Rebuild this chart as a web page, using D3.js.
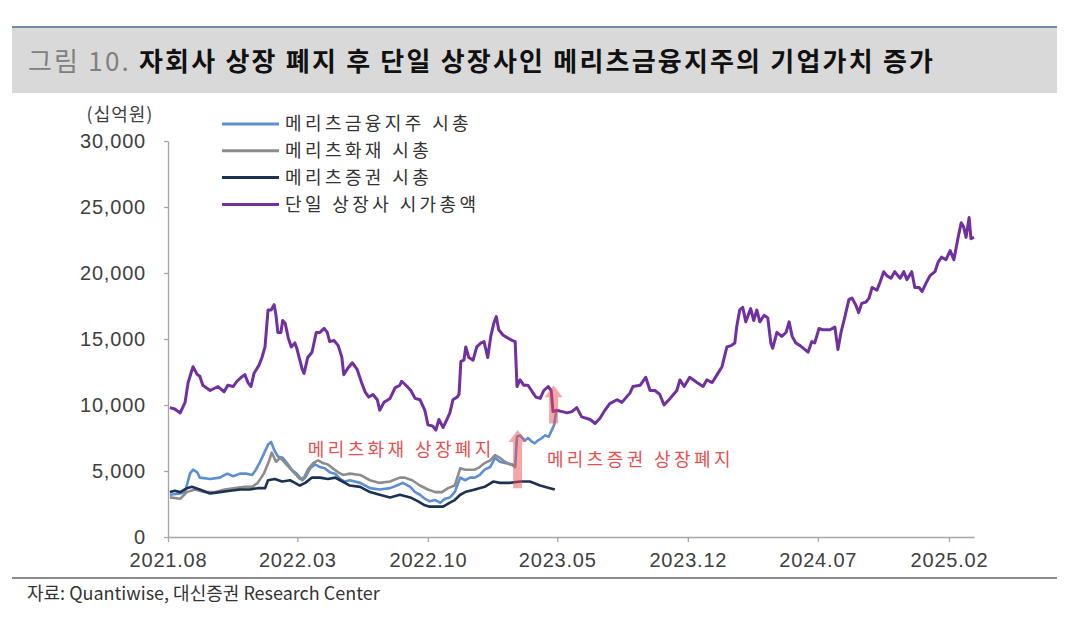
<!DOCTYPE html>
<html>
<head>
    <meta charset="utf-8">
    <title>메리츠금융지주 기업가치</title>
    <style>
        body { margin: 0; background: #fff; }
        text { font-family: 'Noto Sans CJK KR', 'Noto Sans', sans-serif; }
        .num { font-family: 'Liberation Sans', Arial, sans-serif; }
    </style>
</head>
<body>
<div id='plot'></div>
<script src="https://cdn.jsdelivr.net/npm/d3@7"></script>
<script>

    // 시가총액 (십억원), 그림에서 읽은 값
    let holdingCap = [
      ['2021-08-04',3200],['2021-08-21',3300],['2021-08-29',3400],['2021-09-06',4800],['2021-09-11',5100],
      ['2021-09-18',4900],['2021-09-22',4500],['2021-10-09',4400],['2021-10-25',4500],['2021-11-06',4800],
      ['2021-11-16',4600],['2021-11-27',4800],['2021-12-08',4800],['2021-12-17',4700],['2021-12-23',5100],
      ['2021-12-30',5700],['2022-01-05',6300],['2022-01-12',7000],['2022-01-17',7200],['2022-01-22',6600],
      ['2022-01-28',6100],['2022-02-05',6000],['2022-02-12',5600],['2022-02-20',5100],['2022-02-28',4800],
      ['2022-03-09',4300],['2022-03-14',4500],['2022-03-22',5200],['2022-03-30',5500],['2022-04-07',5300],
      ['2022-04-15',5200],['2022-04-23',4900],['2022-05-02',4800],['2022-05-10',4400],['2022-05-18',4200],
      ['2022-05-26',4300],['2022-06-12',4100],['2022-06-28',3700],['2022-07-14',3600],['2022-07-31',3700],
      ['2022-08-11',3900],['2022-08-21',4100],['2022-09-02',3800],['2022-09-10',3400],['2022-09-18',3200],
      ['2022-09-26',2900],['2022-10-04',2700],['2022-10-13',2800],['2022-10-21',2600],['2022-10-29',2900],
      ['2022-11-06',3000],['2022-11-14',3400],['2022-11-23',4500],['2022-12-01',4300],['2022-12-09',4500],
      ['2022-12-17',4500],['2022-12-25',4700],['2023-01-02',5100],['2023-01-11',5300],['2023-01-19',6000],
      ['2023-01-27',5700],['2023-02-04',5600],['2023-02-16',5500],['2023-02-21',5300],['2023-02-24',7600],
      ['2023-03-01',7700],['2023-03-09',7300],['2023-03-14',7500],['2023-03-21',7200],['2023-03-25',7100],
      ['2023-03-30',7300],['2023-04-06',7500],['2023-04-11',7700],['2023-04-17',7600],['2023-04-22',8100],
      ['2023-04-26',8500],['2023-04-29',9500]
    ];

    let fireCap = [
      ['2021-08-04',3000],['2021-08-21',2900],['2021-09-01',3400],['2021-09-14',3600],['2021-10-01',3400],
      ['2021-10-17',3400],['2021-11-02',3600],['2021-11-19',3700],['2021-12-05',3800],['2021-12-17',3800],
      ['2021-12-26',4100],['2022-01-05',4800],['2022-01-14',5800],['2022-01-18',6400],['2022-01-25',5700],
      ['2022-02-01',6000],['2022-02-09',5600],['2022-02-17',5200],['2022-02-25',4800],['2022-03-05',4400],
      ['2022-03-12',4500],['2022-03-18',5100],['2022-03-27',5600],['2022-04-04',5800],['2022-04-12',5600],
      ['2022-04-20',5500],['2022-04-28',5200],['2022-05-07',4900],['2022-05-15',4700],['2022-05-26',4800],
      ['2022-06-12',4700],['2022-06-28',4300],['2022-07-14',4100],['2022-07-31',4200],['2022-08-16',4500],
      ['2022-08-24',4500],['2022-09-05',4300],['2022-09-18',3900],['2022-10-01',3600],['2022-10-13',3400],
      ['2022-10-24',3400],['2022-11-03',3700],['2022-11-14',3900],['2022-11-23',5200],['2022-12-01',5100],
      ['2022-12-09',5100],['2022-12-17',5100],['2022-12-25',5300],['2023-01-02',5600],['2023-01-11',5800],
      ['2023-01-19',6200],['2023-01-27',6000],['2023-02-04',5700],['2023-02-12',5500],['2023-02-21',5400]
    ];

    let securitiesCap = [
      ['2021-08-04',3400],['2021-08-12',3500],['2021-08-21',3400],['2021-09-01',3700],['2021-09-09',3800],
      ['2021-09-22',3600],['2021-10-09',3300],['2021-10-25',3400],['2021-11-11',3500],['2021-11-27',3600],
      ['2021-12-13',3600],['2021-12-26',3700],['2022-01-07',3700],['2022-01-12',4300],['2022-01-23',4400],
      ['2022-02-04',4200],['2022-02-17',4300],['2022-02-25',4100],['2022-03-05',3900],['2022-03-14',4100],
      ['2022-03-25',4500],['2022-04-07',4500],['2022-04-20',4400],['2022-05-02',4500],['2022-05-10',4300],
      ['2022-05-18',4100],['2022-05-26',3900],['2022-06-12',3800],['2022-06-28',3400],['2022-07-14',3200],
      ['2022-07-31',3000],['2022-08-16',3200],['2022-09-02',3000],['2022-09-15',2700],['2022-09-26',2400],
      ['2022-10-04',2300],['2022-10-16',2300],['2022-10-26',2300],['2022-11-06',2600],['2022-11-14',2800],
      ['2022-11-23',3200],['2022-12-01',3400],['2022-12-17',3600],['2023-01-02',3800],['2023-01-16',4200],
      ['2023-01-27',4100],['2023-02-12',4100],['2023-03-01',4200],['2023-03-17',4200],['2023-04-03',3900],
      ['2023-04-19',3700],['2023-04-27',3600]
    ];

    let singleCap = [
      ['2021-08-04',9800],['2021-08-12',9700],['2021-08-21',9400],['2021-08-29',10200],['2021-09-03',11700],
      ['2021-09-11',12900],['2021-09-18',12300],['2021-09-22',12200],['2021-09-27',11500],['2021-10-09',11100],
      ['2021-10-22',11400],['2021-11-01',11000],['2021-11-07',11500],['2021-11-16',11400],['2021-11-22',11800],
      ['2021-11-29',12100],['2021-12-05',12300],['2021-12-10',11700],['2021-12-15',11400],['2021-12-20',12400],
      ['2021-12-28',13000],['2022-01-02',13600],['2022-01-07',14400],['2022-01-12',17200],['2022-01-17',17200],
      ['2022-01-22',17600],['2022-01-25',16800],['2022-01-28',15500],['2022-02-02',15500],['2022-02-05',16400],
      ['2022-02-09',16200],['2022-02-14',15100],['2022-02-19',14400],['2022-02-25',14700],['2022-02-28',14300],
      ['2022-03-09',12700],['2022-03-12',12400],['2022-03-18',13600],['2022-03-25',14000],['2022-04-01',15500],
      ['2022-04-07',15500],['2022-04-14',15800],['2022-04-19',15500],['2022-04-23',14800],['2022-04-30',14900],
      ['2022-05-07',14500],['2022-05-13',13600],['2022-05-16',12300],['2022-05-23',12800],['2022-05-30',13200],
      ['2022-06-07',12700],['2022-06-15',11600],['2022-06-20',11000],['2022-06-26',10600],['2022-07-03',10800],
      ['2022-07-10',10400],['2022-07-14',9600],['2022-07-21',10200],['2022-07-31',10500],['2022-08-08',11300],
      ['2022-08-16',11500],['2022-08-19',11800],['2022-08-28',11400],['2022-09-03',11100],['2022-09-10',10500],
      ['2022-09-18',10400],['2022-09-26',9600],['2022-10-01',8500],['2022-10-09',8400],['2022-10-14',8100],
      ['2022-10-19',8900],['2022-10-26',8300],['2022-11-01',8900],['2022-11-06',9400],['2022-11-11',10400],
      ['2022-11-18',10600],['2022-11-21',10800],['2022-11-24',13300],['2022-11-29',13400],['2022-12-02',14400],
      ['2022-12-07',13600],['2022-12-14',13400],['2022-12-20',14400],['2022-12-27',14700],['2023-01-01',14800],
      ['2023-01-07',13600],['2023-01-12',15200],['2023-01-17',16200],['2023-01-21',16700],['2023-01-25',15700],
      ['2023-02-01',15300],['2023-02-08',15100],['2023-02-16',14900],['2023-02-21',14800],['2023-02-24',11400],
      ['2023-03-01',11900],['2023-03-07',11500],['2023-03-14',11500],['2023-03-21',11000],['2023-03-27',10600],
      ['2023-04-03',10500],['2023-04-09',11100],['2023-04-16',11400],['2023-04-21',11100],['2023-04-24',9500],
      ['2023-04-30',9600],['2023-05-09',9500],['2023-05-17',9400],['2023-05-25',9500],['2023-06-02',9800],
      ['2023-06-10',9100],['2023-06-24',8900],['2023-07-02',8600],['2023-07-10',9000],['2023-07-18',9600],
      ['2023-07-26',10100],['2023-08-07',10400],['2023-08-15',10200],['2023-08-28',10900],['2023-09-02',11400],
      ['2023-09-14',11500],['2023-09-23',12100],['2023-09-30',11100],['2023-10-08',11100],['2023-10-16',10800],
      ['2023-10-23',10000],['2023-11-02',10500],['2023-11-13',11100],['2023-11-18',11900],['2023-11-25',11400],
      ['2023-12-04',12100],['2023-12-16',11700],['2023-12-26',11400],['2024-01-01',11900],['2024-01-10',11700],
      ['2024-01-18',12300],['2024-01-26',12900],['2024-02-03',14400],['2024-02-10',14500],['2024-02-16',14700],
      ['2024-02-19',15900],['2024-02-24',17200],['2024-02-29',17400],['2024-03-05',16300],['2024-03-13',17300],
      ['2024-03-18',16400],['2024-03-23',17200],['2024-03-28',16300],['2024-04-04',16800],['2024-04-10',16600],
      ['2024-04-15',14700],['2024-04-18',14300],['2024-04-25',15500],['2024-05-03',15200],['2024-05-10',15500],
      ['2024-05-15',16300],['2024-05-20',15200],['2024-05-26',14700],['2024-06-02',14500],['2024-06-10',14200],
      ['2024-06-15',14000],['2024-06-21',14800],['2024-06-26',14700],['2024-07-03',15800],['2024-07-09',15700],
      ['2024-07-21',15700],['2024-07-29',15900],['2024-08-03',14200],['2024-08-08',15500],['2024-08-14',16600],
      ['2024-08-21',18000],['2024-08-26',18100],['2024-09-01',17600],['2024-09-06',17000],['2024-09-11',17700],
      ['2024-09-18',17800],['2024-09-23',18100],['2024-09-28',18900],['2024-10-06',18700],['2024-10-11',19300],
      ['2024-10-17',20100],['2024-10-22',19800],['2024-10-29',19600],['2024-11-04',20100],['2024-11-13',19600],
      ['2024-11-19',20100],['2024-11-24',19500],['2024-12-02',20100],['2024-12-07',18900],['2024-12-14',18900],
      ['2024-12-19',18600],['2024-12-25',19200],['2025-01-01',19800],['2025-01-09',20100],['2025-01-14',20800],
      ['2025-01-20',21200],['2025-01-27',21000],['2025-02-03',21700],['2025-02-09',21000],['2025-02-16',22700],
      ['2025-02-21',23800],['2025-02-25',23500],['2025-03-01',22700],['2025-03-06',24200],['2025-03-09',22600],
      ['2025-03-14',22700]
    ];

    let seriesNames = ['메리츠금융지주 시총', '메리츠화재 시총', '메리츠증권 시총', '단일 상장사 시가총액'];
    let seriesColors = ['#5b8fd2', '#8c8c8c', '#1d3152', '#7030a0'];

    let xTicks = ['2021-08-01', '2022-03-01', '2022-10-01', '2023-05-01', '2023-12-01', '2024-07-01', '2025-02-01'];
    let yTicks = [0, 5000, 10000, 15000, 20000, 25000, 30000];

    // 상장폐지 화살표 (날짜, 시작값, 끝값)와 설명
    let arrowDates = ['2023-02-25', '2023-04-25'];
    let arrowFrom = [3700, 8600];
    let arrowTo = [8100, 11500];
    let noteLabels = ['메리츠화재 상장폐지', '메리츠증권 상장폐지'];
    let noteDates = ['2022-03-18', '2023-04-14'];
    let noteValues = [6100, 5400];

    let svgWidth = 1079;
    let svgHeight = 618;
    let parse = d3.timeParse('%Y-%m-%d');

    let svg = d3.select('#plot')
      .append('svg')
        .attr('width', svgWidth)
        .attr('height', svgHeight);

    // 제목 영역
    svg.append('rect')
      .attr('x', 12).attr('y', 27).attr('width', 1045).attr('height', 66)
      .attr('fill', '#d9d9d9');
    svg.append('line')
      .attr('x1', 12).attr('x2', 1057).attr('y1', 27).attr('y2', 27)
      .attr('stroke', '#6f8aa6').attr('stroke-width', 2);

    let title = svg.append('text')
      .attr('x', 28).attr('y', 71)
      .style('font-size', '26px')
      .style('letter-spacing', '2.2px');
    title.append('tspan')
      .attr('fill', '#808080')
      .style('font-weight', 400)
      .text('그림 10. ');
    title.append('tspan')
      .attr('fill', '#111')
      .style('font-weight', 700)
      .text('자회사 상장 폐지 후 단일 상장사인 메리츠금융지주의 기업가치 증가');

    let x = d3.scaleTime()
      .domain([parse('2021-08-01'), parse('2025-03-14')])
      .range([168, 974]);

    let y = d3.scaleLinear()
      .domain([0, 30000])
      .range([537, 141]);

    // 축
    let yAxis = d3.axisLeft(y)
      .tickValues(yTicks)
      .tickFormat(d3.format(','))
      .tickSize(4)
      .tickSizeOuter(0)
      .tickPadding(18);

    let gy = svg.append('g')
      .attr('transform', 'translate(168,0)')
      .call(yAxis);

    let xAxis = d3.axisBottom(x)
      .tickValues(xTicks.map(parse))
      .tickFormat(d3.timeFormat('%Y.%m'))
      .tickSize(5)
      .tickSizeOuter(0)
      .tickPadding(11);

    let gx = svg.append('g')
      .attr('transform', 'translate(0,537)')
      .call(xAxis);

    [gx, gy].forEach(function(g) {
      g.select('.domain').attr('stroke', '#a6a6a6').attr('stroke-width', 1.3);
      g.selectAll('.tick line').attr('stroke', '#a6a6a6').attr('stroke-width', 1.3);
      g.selectAll('.tick text')
        .attr('class', 'num')
        .attr('fill', '#404040')
        .style('font-size', '20px')
        .style('letter-spacing', '0.8px');
    });

    svg.append('text')
      .attr('x', 120).attr('y', 121)
      .attr('text-anchor', 'middle')
      .attr('fill', '#404040')
      .style('font-size', '18px')
      .style('letter-spacing', '1px')
      .text('(십억원)');

    // 선
    let line = d3.line()
      .x(d => x(parse(d[0])))
      .y(d => y(d[1]));

    let seriesData = [holdingCap, fireCap, securitiesCap, singleCap];

    svg.selectAll('path.series')
      .data(seriesData)
      .enter()
        .append('path')
        .attr('class', 'series')
        .attr('d', line)
        .attr('fill', 'none')
        .attr('stroke', (d, i) => seriesColors[i])
        .attr('stroke-width', (d, i) => i === 3 ? 3 : 2.6)
        .attr('stroke-linejoin', 'round');

    // 화살표
    function arrowPath(i) {
      let cx = x(parse(arrowDates[i]));
      let yb = y(arrowFrom[i]);
      let yt = y(arrowTo[i]);
      let pts = [
        [cx - 4.5, yb], [cx - 4.5, yt + 12], [cx - 9, yt + 12], [cx, yt],
        [cx + 9, yt + 12], [cx + 4.5, yt + 12], [cx + 4.5, yb]
      ];
      return 'M' + pts.join('L') + 'Z';
    }

    svg.selectAll('path.arrow')
      .data(arrowDates)
      .enter()
        .append('path')
        .attr('class', 'arrow')
        .attr('d', (d, i) => arrowPath(i))
        .attr('fill', 'rgba(236, 80, 80, 0.5)');

    svg.selectAll('text.note')
      .data(noteLabels)
      .enter()
        .append('text')
        .attr('class', 'note')
        .attr('x', (d, i) => x(parse(noteDates[i])))
        .attr('y', (d, i) => y(noteValues[i]))
        .attr('fill', '#e8504f')
        .style('font-size', '18px')
        .style('letter-spacing', '3.4px')
        .text(d => d);

    // 범례
    let legend = svg.append('g');
    seriesNames.forEach(function(name, i) {
      let ly = 124 + i * 26.8;
      legend.append('line')
        .attr('x1', 222).attr('x2', 279)
        .attr('y1', ly).attr('y2', ly)
        .attr('stroke', seriesColors[i])
        .attr('stroke-width', 3);
      legend.append('text')
        .attr('x', 285).attr('y', ly)
        .attr('dy', '0.35em')
        .attr('fill', '#333')
        .style('font-size', '18px')
        .style('letter-spacing', '3.4px')
        .text(name);
    });

    // 출처
    svg.append('line')
      .attr('x1', 12).attr('x2', 1057).attr('y1', 578).attr('y2', 578)
      .attr('stroke', '#8c8c8c').attr('stroke-width', 2);

    svg.append('text')
      .attr('x', 27).attr('y', 600)
      .attr('fill', '#333')
      .style('font-size', '18px')
      .style('font-family', "'Liberation Sans Narrow', 'Noto Sans CJK KR', sans-serif")
      .text('자료: Quantiwise, 대신증권 Research Center');

</script>
</body>
</html>
